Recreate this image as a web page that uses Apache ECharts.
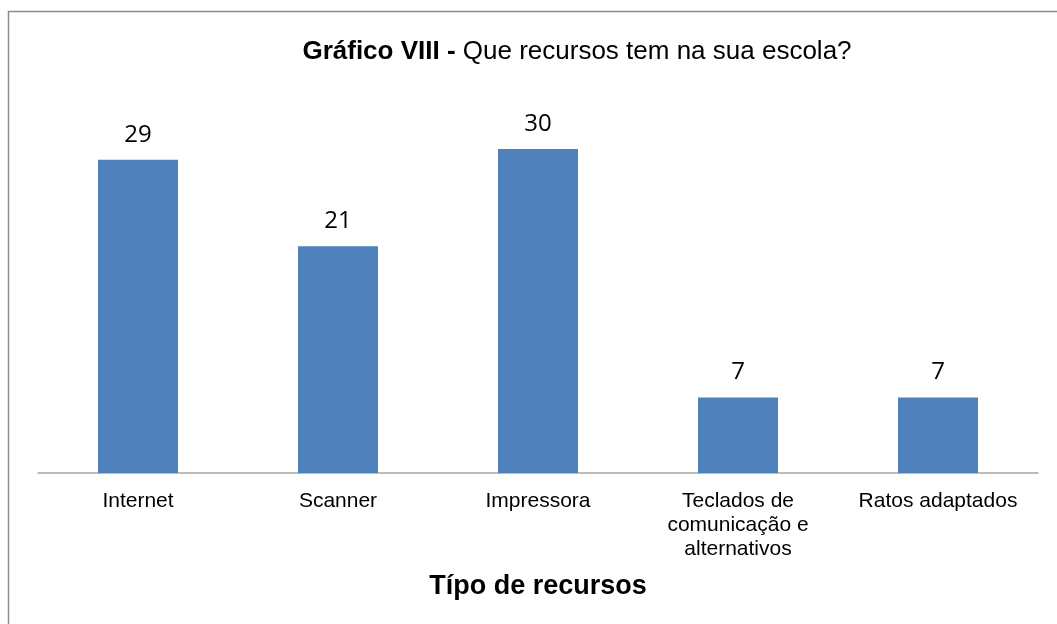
<!DOCTYPE html>
<html><head><meta charset="utf-8">
<script src="https://cdn.jsdelivr.net/npm/echarts@6/dist/echarts.min.js"></script>
<style>html,body{margin:0;padding:0;background:#fff}#c{width:1057px;height:624px}</style>
</head><body><div id="c"></div>
<script>
const categories = ['Internet', 'Scanner', 'Impressora', 'Teclados de\ncomunicação e\nalternativos', 'Ratos adaptados'];
const values = [29, 21, 30, 7, 7];
const chart = echarts.init(document.getElementById('c'));
chart.setOption({
  animation: false,
  graphic: [{type: 'rect', shape: {x: 8.5, y: 11.5, width: 1200, height: 800}, style: {fill: 'none', stroke: '#8c8c8c', lineWidth: 1.5}, z: -1}],
  title: {
    text: '{b|Gráfico VIII - }{r|Que recursos tem na sua escola?}',
    left: 572, top: 34, textAlign: 'center',
    textStyle: {rich: {
      b: {fontFamily: 'Liberation Sans', fontWeight: 'bold', fontSize: 26, color: '#000'},
      r: {fontFamily: 'Liberation Sans', fontWeight: 'normal', fontSize: 26, color: '#000'}
    }}
  },
  grid: {left: 38, right: 19, top: 95, height: 378},
  xAxis: {
    type: 'category', data: categories,
    axisLine: {lineStyle: {color: '#a6a6a6', width: 1.5}},
    axisTick: {show: false},
    axisLabel: {fontFamily: 'Liberation Sans', fontSize: 21, color: '#000', lineHeight: 24, margin: 16, interval: 0},
    name: 'Típo de recursos', nameLocation: 'middle', nameGap: 100,
    nameTextStyle: {fontFamily: 'Liberation Sans', fontWeight: 'bold', fontSize: 27, color: '#000'}
  },
  yAxis: {type: 'value', min: 0, max: 35, show: false, splitLine: {show: false}},
  series: [{
    type: 'bar', data: values, barWidth: 80,
    itemStyle: {color: '#4f81bd'},
    label: {show: true, position: 'top', distance: 13, fontFamily: 'Open Sans', fontSize: 24, color: '#000'}
  }]
});
</script></body></html>
